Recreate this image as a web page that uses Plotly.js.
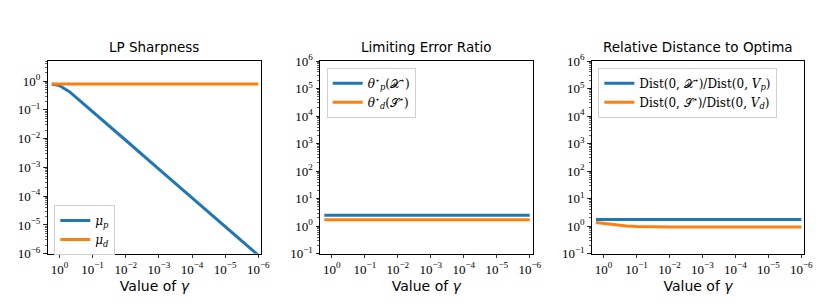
<!DOCTYPE html>
<html>
<head>
<meta charset="utf-8">
<script src="https://cdn.plot.ly/plotly-3.0.1.min.js"></script>
<style>html,body{margin:0;padding:0;background:#fff;}#chart{width:830px;height:307px;}</style>
</head>
<body>
<div id="chart"></div>
<script>
// ---- data ----
const gamma = [1.7, 1, 0.5, 0.2, 0.1, 0.05, 0.02, 0.01, 1e-3, 1e-4, 1e-5, 1e-6];
const muP   = [0.8, 0.7, 0.43, 0.175, 0.088, 0.044, 0.0176, 0.0088, 8.8e-4, 8.8e-5, 8.8e-6, 8.8e-7];
const muD   = [0.8, 0.8, 0.8, 0.8, 0.8, 0.8, 0.8, 0.8, 0.8, 0.8, 0.8, 0.8];
const thetaP = [2.5, 2.5, 2.5, 2.5, 2.5, 2.5, 2.5, 2.5, 2.5, 2.5, 2.5, 2.5];
const thetaD = [1.7, 1.7, 1.7, 1.7, 1.7, 1.7, 1.7, 1.7, 1.7, 1.7, 1.7, 1.7];
const distP = [1.74, 1.74, 1.74, 1.74, 1.74, 1.74, 1.74, 1.74, 1.74, 1.74, 1.74, 1.74];
const distD = [1.35, 1.25, 1.12, 1.02, 0.97, 0.95, 0.935, 0.93, 0.925, 0.925, 0.925, 0.925];

const titles = ['LP Sharpness', 'Limiting Error Ratio', 'Relative Distance to Optima'];
const xTickVals = [1, 1e-1, 1e-2, 1e-3, 1e-4, 1e-5, 1e-6];
const xTickText = ['10<sup>0</sup>', '10<sup>−1</sup>', '10<sup>−2</sup>', '10<sup>−3</sup>', '10<sup>−4</sup>', '10<sup>−5</sup>', '10<sup>−6</sup>'];
const y1TickVals = [1e-6, 1e-5, 1e-4, 1e-3, 1e-2, 1e-1, 1];
const y1TickText = ['10<sup>−6</sup>', '10<sup>−5</sup>', '10<sup>−4</sup>', '10<sup>−3</sup>', '10<sup>−2</sup>', '10<sup>−1</sup>', '10<sup>0</sup>'];
const y2TickVals = [1e-1, 1, 10, 100, 1e3, 1e4, 1e5, 1e6];
const y2TickText = ['10<sup>−1</sup>', '10<sup>0</sup>', '10<sup>1</sup>', '10<sup>2</sup>', '10<sup>3</sup>', '10<sup>4</sup>', '10<sup>5</sup>', '10<sup>6</sup>'];

const BLUE = '#1f77b4', ORANGE = '#ff7f0e';
const SERIF = 'Liberation Serif, serif';
const SANS = 'DejaVu Sans, sans-serif';

function tr(y, name, color, xa, ya, leg) {
  return {x: gamma, y: y, name: name, mode: 'lines', type: 'scatter',
          line: {color: color, width: 3}, xaxis: xa, yaxis: ya, legend: leg};
}
const traces = [
  tr(muP, '<i>μ</i><sub><i>p</i></sub>', BLUE, 'x', 'y', 'legend'),
  tr(muD, '<i>μ</i><sub><i>d</i></sub>', ORANGE, 'x', 'y', 'legend'),
  tr(thetaP, '<i>θ</i><sup>⋆</sup><sub><i>p</i></sub>(𝒳<sup>⋆</sup>)', BLUE, 'x2', 'y2', 'legend2'),
  tr(thetaD, '<i>θ</i><sup>⋆</sup><sub><i>d</i></sub>(𝒮<sup>⋆</sup>)', ORANGE, 'x2', 'y2', 'legend2'),
  tr(distP, 'Dist(0, 𝒳<sup>⋆</sup>)/Dist(0, <i>V</i><sub><i>p</i></sub>)', BLUE, 'x3', 'y3', 'legend3'),
  tr(distD, 'Dist(0, 𝒮<sup>⋆</sup>)/Dist(0, <i>V</i><sub><i>d</i></sub>)', ORANGE, 'x3', 'y3', 'legend3')
];

const W = 830, H = 307;
const xDoms = [[47.5 / W, 261.3 / W], [320 / W, 532.7 / W], [591.7 / W, 804.3 / W]];
const yDom = [1 - 253.7 / H, 1 - 61 / H];

function xaxis(i) {
  return {domain: xDoms[i], type: 'log', range: [0.36, -6.09], autorange: false,
    tickmode: 'array', tickvals: xTickVals, ticktext: xTickText,
    ticks: 'outside', ticklen: 3.5, tickwidth: 0.8, tickcolor: '#000',
    showline: true, linecolor: '#000', linewidth: 1, mirror: true,
    showgrid: false, zeroline: false,
    tickfont: {family: SERIF, size: 13, color: '#000'},
    title: {text: 'Value of <i>γ</i>', font: {family: SANS, size: 14, color: '#000'}, standoff: 5},
    anchor: i === 0 ? 'y' : 'y' + (i + 1)};
}
function yaxis(i, range, tv, tt) {
  return {domain: yDom, type: 'log', range: range, autorange: false,
    tickmode: 'array', tickvals: tv, ticktext: tt,
    ticks: 'outside', ticklen: 3.5, tickwidth: 0.8, tickcolor: '#000',
    minor: {ticks: 'outside', ticklen: 2, tickwidth: 0.6, tickcolor: '#000', dtick: 'D1', showgrid: false},
    showline: true, linecolor: '#000', linewidth: 1, mirror: true,
    showgrid: false, zeroline: false,
    tickfont: {family: SERIF, size: 13, color: '#000'},
    anchor: i === 0 ? 'x' : 'x' + (i + 1)};
}
function legend(x, y) {
  return {x: x, y: y, xanchor: 'left', yanchor: 'top', bgcolor: 'rgba(255,255,255,0.8)',
    bordercolor: '#d0d0d0', borderwidth: 1, font: {family: 'DejaVu Serif, serif', size: 12, color: '#000'},
    tracegroupgap: 0, itemwidth: 30};
}

const annotations = titles.map((t, i) => ({
  text: t, xref: 'paper', yref: 'paper', x: (xDoms[i][0] + xDoms[i][1]) / 2, y: 1 - 57 / H,
  xanchor: 'center', yanchor: 'bottom', showarrow: false,
  font: {family: SANS, size: 13.5, color: '#000'}
}));

const layout = {
  width: W, height: H, margin: {l: 0, r: 0, t: 0, b: 0},
  paper_bgcolor: '#fff', plot_bgcolor: '#fff', showlegend: true,
  xaxis: xaxis(0), xaxis2: xaxis(1), xaxis3: xaxis(2),
  yaxis: yaxis(0, [-6, 0.7], y1TickVals, y1TickText),
  yaxis2: yaxis(1, [-1, 6], y2TickVals, y2TickText),
  yaxis3: yaxis(2, [-1, 6], y2TickVals, y2TickText),
  legend: legend(54.3 / W, 1 - 205 / H),
  legend2: legend(326.7 / W, 1 - 67.7 / H),
  legend3: legend(598.3 / W, 1 - 67.7 / H),
  annotations: annotations
};

Plotly.newPlot('chart', traces, layout, {displayModeBar: false, staticPlot: true});
</script>
</body>
</html>
